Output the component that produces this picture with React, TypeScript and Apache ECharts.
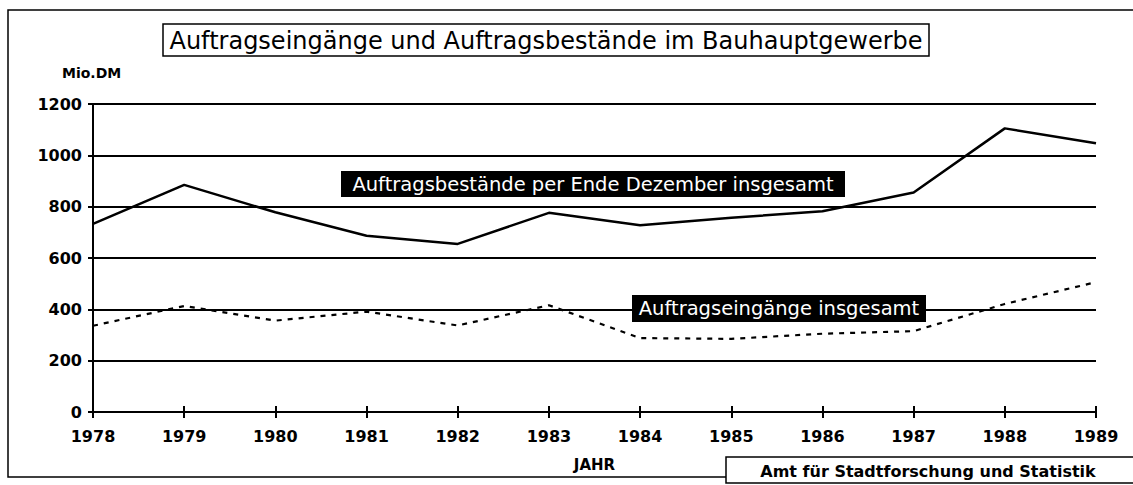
import React, { useEffect, useRef } from "react";
import * as echarts from "echarts";

const years = ["1978", "1979", "1980", "1981", "1982", "1983", "1984", "1985", "1986", "1987", "1988", "1989"];
const bestaende = [733, 885, 778, 687, 655, 776, 728, 757, 782, 855, 1105, 1047];
const eingaenge = [336, 413, 356, 391, 337, 416, 288, 285, 305, 315, 421, 506];
const yTicks = [0, 200, 400, 600, 800, 1000, 1200];

const titleText = "Auftragseingänge und Auftragsbestände im Bauhauptgewerbe";
const labelBestand = "Auftragsbestände per Ende Dezember insgesamt";
const labelEingang = "Auftragseingänge insgesamt";
const sourceText = "Amt für Stadtforschung und Statistik";

const FONT = "DejaVu Sans";

export default function App() {
  const ref = useRef<HTMLDivElement>(null);
  useEffect(() => {
    if (!ref.current) return;
    const chart = echarts.init(ref.current, null, { renderer: "svg" });
    chart.setOption({
      animation: false,
      backgroundColor: "#fff",
      grid: { left: 93, right: 37, top: 104, bottom: 73 },
      xAxis: [
        {
          type: "category",
          data: years,
          boundaryGap: false,
          name: "JAHR",
          nameLocation: "middle",
          nameGap: 45,
          nameTextStyle: { color: "#000", fontFamily: FONT, fontWeight: "bold", fontSize: 15 },
          axisLine: { show: true, lineStyle: { color: "#000", width: 2 } },
          axisTick: { show: true, inside: false, length: 6, lineStyle: { color: "#000", width: 2 } },
          axisLabel: { color: "#000", fontFamily: FONT, fontWeight: "bold", fontSize: 16, margin: 16, interval: 0 },
          splitLine: { show: false },
        },
        {
          type: "category",
          data: years,
          boundaryGap: false,
          position: "bottom",
          axisLine: { show: false },
          axisTick: { show: true, inside: true, length: 6, lineStyle: { color: "#000", width: 2 } },
          axisLabel: { show: false },
          splitLine: { show: false },
        },
      ],
      yAxis: {
        type: "value",
        min: yTicks[0],
        max: yTicks[yTicks.length - 1],
        interval: 200,
        axisLine: { show: true, lineStyle: { color: "#000", width: 2 } },
        axisTick: { show: true, length: 5, lineStyle: { color: "#000", width: 2 } },
        axisLabel: {
          color: "#000",
          fontFamily: FONT,
          fontWeight: "bold",
          fontSize: 16,
          margin: 11,
          formatter: (v: number) => String(v),
        },
        splitLine: { show: true, lineStyle: { color: "#000", width: 2 } },
      },
      series: [
        {
          type: "line",
          name: labelBestand,
          data: bestaende,
          xAxisIndex: 0,
          symbol: "none",
          lineStyle: { color: "#000", width: 2.5 },
          z: 3,
        },
        {
          type: "line",
          name: labelEingang,
          data: eingaenge,
          xAxisIndex: 0,
          symbol: "none",
          lineStyle: { color: "#000", width: 2.2, type: [5, 6] },
          z: 3,
        },
      ],
      graphic: [
        {
          type: "rect",
          shape: { x: 8, y: 10, width: 1140, height: 467 },
          style: { fill: "none", stroke: "#000", lineWidth: 1.5 },
          z: 0,
        },
        {
          type: "rect",
          shape: { x: 163, y: 24, width: 766, height: 32 },
          style: { fill: "#fff", stroke: "#000", lineWidth: 1.5 },
          z: 5,
        },
        {
          type: "text",
          x: 546,
          y: 41,
          style: { text: titleText, fill: "#000", font: "24px 'DejaVu Sans'", textAlign: "center", textVerticalAlign: "middle" },
          z: 6,
        },
        {
          type: "text",
          x: 62,
          y: 73,
          style: { text: "Mio.DM", fill: "#000", font: "bold 14px 'DejaVu Sans'", textAlign: "left", textVerticalAlign: "middle" },
          z: 6,
        },
        {
          type: "rect",
          shape: { x: 341, y: 171, width: 504, height: 26 },
          style: { fill: "#000" },
          z: 10,
        },
        {
          type: "text",
          x: 593,
          y: 184,
          style: { text: labelBestand, fill: "#fff", font: "19.5px 'DejaVu Sans'", textAlign: "center", textVerticalAlign: "middle" },
          z: 11,
        },
        {
          type: "rect",
          shape: { x: 632, y: 295, width: 294, height: 27 },
          style: { fill: "#000" },
          z: 10,
        },
        {
          type: "text",
          x: 779,
          y: 308,
          style: { text: labelEingang, fill: "#fff", font: "19.5px 'DejaVu Sans'", textAlign: "center", textVerticalAlign: "middle" },
          z: 11,
        },
        {
          type: "rect",
          shape: { x: 726, y: 457, width: 420, height: 26 },
          style: { fill: "#fff", stroke: "#000", lineWidth: 1.5 },
          z: 10,
        },
        {
          type: "text",
          x: 928,
          y: 471,
          style: { text: sourceText, fill: "#000", font: "bold 16px 'DejaVu Sans'", textAlign: "center", textVerticalAlign: "middle" },
          z: 11,
        },
      ],
    });
    return () => chart.dispose();
  }, []);
  return <div ref={ref} style={{ position: "fixed", left: 0, top: 0, width: 1133, height: 485 }} />;
}
